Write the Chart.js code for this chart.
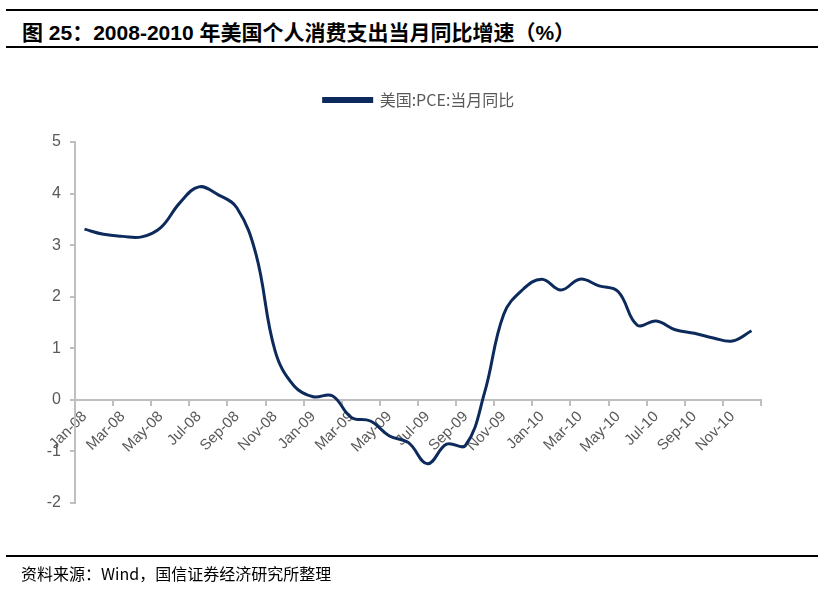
<!DOCTYPE html>
<html>
<head>
<meta charset="utf-8">
<script src="https://cdn.jsdelivr.net/npm/chart.js@4/dist/chart.umd.min.js"></script>
<style>
  body { margin: 0; background: #fff; }
  #wrap { position: relative; width: 827px; height: 594px; overflow: hidden; }
  .rule { position: absolute; left: 6px; width: 812px; border-top: 2px solid #000; }
  #title { position: absolute; left: 22px; top: 16px; font: bold 21px "Liberation Sans", "Noto Sans CJK SC", sans-serif; color: #000; white-space: nowrap; }
  #source { position: absolute; left: 21px; top: 561px; font: 16px "Noto Sans CJK SC", sans-serif; color: #000; white-space: nowrap; }
  canvas { position: absolute; left: 0; top: 0; }
</style>
</head>
<body>
<div id="wrap">
  <div class="rule" style="top:9px"></div>
  <div id="title">图 25：2008-2010 年美国个人消费支出当月同比增速（%）</div>
  <div class="rule" style="top:46px"></div>
  <canvas id="chart" width="827" height="594"></canvas>
  <div class="rule" style="top:555px"></div>
  <div id="source">资料来源：Wind，国信证券经济研究所整理</div>
</div>
<script>
const months = [
  'Jan-08', 'Feb-08', 'Mar-08', 'Apr-08', 'May-08', 'Jun-08', 'Jul-08', 'Aug-08', 'Sep-08', 'Oct-08', 'Nov-08', 'Dec-08',
  'Jan-09', 'Feb-09', 'Mar-09', 'Apr-09', 'May-09', 'Jun-09', 'Jul-09', 'Aug-09', 'Sep-09', 'Oct-09', 'Nov-09', 'Dec-09',
  'Jan-10', 'Feb-10', 'Mar-10', 'Apr-10', 'May-10', 'Jun-10', 'Jul-10', 'Aug-10', 'Sep-10', 'Oct-10', 'Nov-10', 'Dec-10'
];
const seriesName = '美国:PCE:当月同比';
const pceYoy = [
  3.31, 3.21, 3.17, 3.16, 3.34, 3.82, 4.13, 3.98, 3.72, 2.82, 0.95, 0.27,
  0.06, 0.08, -0.34, -0.41, -0.70, -0.83, -1.24, -0.86, -0.88, 0.15, 1.66, 2.14,
  2.34, 2.13, 2.34, 2.21, 2.10, 1.45, 1.53, 1.36, 1.29, 1.20, 1.14, 1.34
];
const yTicks = [-2, -1, 0, 1, 2, 3, 4, 5];

const axisGrey = '#bfbfbf';
const textGrey = '#595959';
const navy = '#0c2a5b';

const ctx = document.getElementById('chart').getContext('2d');
new Chart(ctx, {
  type: 'line',
  data: {
    labels: months,
    datasets: [{
      label: seriesName,
      data: pceYoy,
      borderColor: navy,
      backgroundColor: navy,
      borderWidth: 3,
      pointRadius: 0,
      tension: 0.4,
      fill: false
    }]
  },
  options: {
    responsive: false,
    animation: false,
    layout: { padding: { left: 11, right: 0, top: 55, bottom: 91 } },
    plugins: {
      legend: {
        display: true,
        position: 'top',
        labels: {
          boxWidth: 48,
          boxHeight: 3,
          padding: 37,
          color: textGrey,
          font: { family: '"Noto Sans CJK SC", sans-serif', size: 16 }
        }
      },
      tooltip: { enabled: false }
    },
    scales: {
      x: {
        type: 'category',
        position: { y: 0 },
        offset: true,
        grid: {
          offset: true,
          drawOnChartArea: false,
          drawTicks: true,
          tickLength: 5,
          color: (c) => (c.index === undefined || c.index % 2 === 0) ? axisGrey : 'rgba(0,0,0,0)',
          lineWidth: 2
        },
        border: { display: true, color: axisGrey, width: 2 },
        ticks: {
          autoSkip: false,
          maxRotation: 45,
          minRotation: 45,
          padding: 3,
          color: textGrey,
          font: { family: '"Liberation Sans", Arial, sans-serif', size: 15 },
          callback: (v, i) => i % 2 === 0 ? months[i] : ''
        }
      },
      // empty top axis: gap between legend and plot
      xTop: {
        type: 'category',
        position: 'top',
        display: true,
        afterFit: (s) => { s.height = 24; },
        grid: { display: false },
        border: { display: false },
        ticks: { display: false }
      },
      y: {
        min: -2,
        max: 5,
        afterFit: (s) => { s.width = 64; },
        afterBuildTicks: (s) => { s.ticks = yTicks.map(v => ({ value: v })); },
        grid: {
          drawOnChartArea: false,
          drawTicks: true,
          tickLength: 5,
          color: axisGrey,
          lineWidth: 2
        },
        border: { display: true, color: axisGrey, width: 2 },
        ticks: {
          padding: 9,
          color: textGrey,
          font: { family: '"Liberation Sans", Arial, sans-serif', size: 16 }
        }
      },
      // empty right-hand axis that only reserves the space to the right of the plot
      yRight: {
        position: 'right',
        display: true,
        min: -2,
        max: 5,
        afterFit: (s) => { s.width = 66; },
        grid: { display: false },
        border: { display: false },
        ticks: { display: false }
      }
    }
  }
});
</script>
</body>
</html>
